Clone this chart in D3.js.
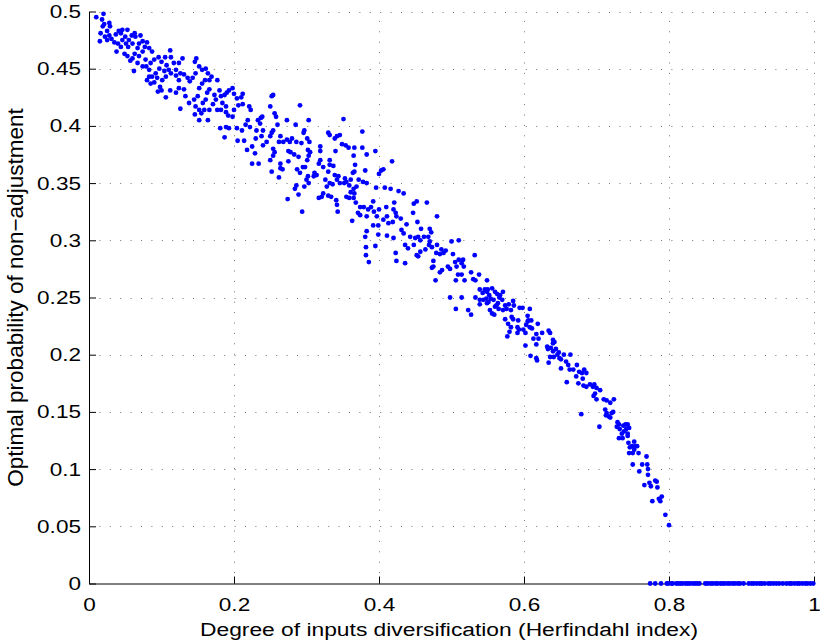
<!DOCTYPE html>
<html>
<head>
<meta charset="utf-8">
<script src="https://cdn.jsdelivr.net/npm/d3@7"></script>
<style>
  body { margin: 0; background: #fff; }
  svg { display: block; }
  text { font-family: "Liberation Sans", Arial, Helvetica, sans-serif; fill: #000; }
</style>
</head>
<body>
<div id="chart"></div>
<script>
// point cloud, [herfindahl, prob]
var upperCloud = [
  [.010,.495],[.020,.498],[.018,.493],[.021,.489],[.028,.490],[.029,.487],[.019,.487],[.016,.481],[.025,.483],[.015,.474],
  [.022,.478],[.028,.479],[.031,.476],[.025,.475],[.035,.473],[.037,.480],[.041,.483],[.044,.481],[.046,.484],[.053,.484],
  [.050,.478],[.046,.475],[.040,.472],[.038,.465],[.044,.469],[.051,.472],[.055,.475],[.059,.479],[.063,.481],[.064,.478],
  [.071,.479],[.060,.472],[.054,.469],[.049,.463],[.053,.461],[.057,.457],[.060,.459],[.063,.463],[.067,.468],[.069,.472],
  [.074,.474],[.080,.473],[.077,.469],[.083,.468],[.087,.465],[.074,.465],[.069,.461],[.067,.455],[.062,.448],[.074,.452],
  [.078,.458],[.079,.452],[.083,.449],[.085,.455],[.090,.458],[.096,.460],[.100,.456],[.105,.460],[.112,.466],[.113,.460],
  [.117,.455],[.124,.455],[.129,.459],[.107,.453],[.104,.448],[.110,.449],[.097,.450],[.092,.446],[.087,.443],[.094,.442],
  [.101,.440],[.106,.443],[.113,.446],[.120,.449],[.120,.444],[.124,.440],[.126,.446],[.131,.445],[.136,.442],[.139,.439],
  [.143,.442],[.147,.446],[.148,.459],[.146,.456],[.152,.452],[.156,.449],[.161,.450],[.164,.446],[.166,.440],[.169,.443],
  [.160,.440],[.156,.437],[.152,.433],[.150,.426],[.145,.423],[.147,.417],[.152,.414],[.157,.420],[.161,.423],[.163,.429],
  [.166,.432],[.173,.427],[.175,.423],[.177,.440],[.180,.431],[.182,.426],[.184,.420],[.189,.417],[.187,.427],[.190,.429],
  [.193,.431],[.198,.433],[.200,.428],[.204,.424],[.210,.425],[.212,.428],[.212,.419],[.206,.418],[.200,.414],[.198,.408],
  [.192,.409],[.189,.412],[.182,.414],[.177,.414],[.171,.419],[.166,.414],[.159,.414],[.155,.411],[.146,.410],[.138,.420],
  [.133,.426],[.131,.432],[.124,.433],[.120,.429],[.112,.431],[.106,.425],[.100,.431],[.095,.430],[.098,.434],[.090,.438],
  [.085,.437],[.080,.440],[.083,.443],[.126,.415],[.152,.405],[.164,.405],[.221,.417],[.223,.414],[.219,.405],[.216,.401],
  [.222,.399],[.211,.396],[.204,.398],[.193,.398],[.189,.399],[.181,.398],[.187,.390],[.205,.387],[.214,.387],[.225,.382],
  [.230,.389],[.231,.396],[.233,.405],[.225,.367],[.234,.367],[.218,.379],[.229,.376]
];

var middleCloud = [
  [.250,.417],[.252,.426],[.254,.427],[.256,.411],[.258,.408],[.260,.401],[.254,.396],[.252,.394],[.250,.391],[.245,.386],
  [.240,.383],[.238,.391],[.240,.396],[.236,.402],[.237,.407],[.239,.408],[.273,.405],[.285,.401],[.291,.418],[.303,.405],
  [.297,.396],[.296,.394],[.293,.385],[.286,.386],[.280,.389],[.277,.386],[.273,.388],[.268,.386],[.264,.391],[.262,.386],
  [.254,.380],[.256,.377],[.254,.374],[.250,.370],[.252,.360],[.262,.355],[.264,.363],[.267,.362],[.264,.367],[.275,.369],
  [.278,.377],[.275,.378],[.283,.375],[.289,.373],[.287,.362],[.291,.359],[.295,.364],[.298,.364],[.301,.370],[.303,.374],
  [.305,.377],[.302,.379],[.301,.389],[.304,.386],[.319,.382],[.319,.378],[.330,.394],[.332,.392],[.339,.389],[.342,.391],
  [.346,.392],[.351,.406],[.340,.378],[.332,.370],[.332,.366],[.319,.370],[.317,.367],[.323,.364],[.330,.360],[.337,.365],
  [.339,.357],[.344,.356],[.342,.353],[.346,.350],[.336,.349],[.332,.350],[.328,.347],[.326,.353],[.314,.357],[.311,.359],
  [.310,.356],[.302,.356],[.300,.353],[.303,.350],[.297,.347],[.284,.345],[.286,.348],[.289,.340],[.274,.336],[.294,.325],
  [.317,.337],[.321,.338],[.323,.341],[.330,.339],[.334,.338],[.341,.335],[.342,.331],[.343,.325],[.352,.350],[.353,.354],
  [.355,.351],[.359,.348],[.361,.353],[.364,.359],[.366,.360],[.367,.366],[.365,.374],[.358,.381],[.354,.383],[.349,.384],
  [.366,.381],[.377,.395],[.377,.381],[.383,.375],[.395,.378],[.381,.361],[.383,.350],[.378,.351],[.372,.353],[.369,.347],
  [.365,.345],[.361,.342],[.355,.338],[.359,.337],[.365,.337],[.366,.341],[.368,.333],[.374,.329],[.371,.324],[.374,.322],
  [.379,.329],[.383,.321],[.385,.327],[.389,.329],[.393,.325],[.392,.334],[.396,.346],[.397,.321],[.399,.313],[.400,.327],
  [.400,.358],[.403,.361],[.406,.362],[.408,.346],[.410,.329],[.411,.321],[.413,.315],[.418,.369],[.416,.345],[.420,.327],
  [.423,.324],[.424,.321],[.421,.333],[.427,.343],[.383,.308],[.381,.303],[.399,.305],[.411,.304],[.420,.302],[.392,.313],
  [.406,.318],[.419,.316],[.363,.317]
];

var lowerCloud = [
  [.434,.341],[.448,.332],[.452,.334],[.466,.333],[.447,.324],[.453,.316],[.458,.310],[.470,.310],[.472,.307],[.480,.321],
  [.430,.319],[.438,.314],[.443,.303],[.431,.309],[.434,.306],[.436,.296],[.440,.293],[.450,.302],[.454,.303],[.457,.300],
  [.462,.303],[.468,.303],[.470,.299],[.473,.294],[.469,.296],[.464,.292],[.457,.290],[.454,.286],[.452,.287],[.448,.296],
  [.480,.296],[.486,.292],[.489,.289],[.492,.291],[.484,.288],[.479,.289],[.500,.299],[.510,.300],[.502,.288],[.505,.281],
  [.507,.277],[.510,.283],[.514,.280],[.516,.283],[.517,.277],[.509,.270],[.514,.270],[.498,.275],[.495,.277],[.487,.274],
  [.484,.272],[.475,.277],[.473,.276],[.475,.282],[.532,.287],[.527,.272],[.530,.266],[.538,.270],[.549,.265],[.423,.289],
  [.424,.282],[.436,.280],[.382,.294],[.382,.287],[.386,.281],[.395,.295],[.478,.265],[.518,.265],[.506,.265],[.533,.265],
  [.571,.255],[.567,.252],[.570,.248],[.574,.243],[.576,.240],[.571,.239],[.579,.244],[.585,.247],[.586,.243],[.582,.239],
  [.594,.241],[.598,.241],[.608,.240],[.592,.230],[.583,.233],[.585,.231],[.574,.231],[.578,.227],[.582,.224],[.580,.220],
  [.577,.216],[.591,.224],[.593,.222],[.591,.219],[.605,.234],[.605,.229],[.603,.226],[.606,.230],[.610,.230],[.619,.227],
  [.608,.224],[.611,.223],[.613,.214],[.617,.218],[.617,.209],[.620,.214],[.625,.219],[.602,.208],[.634,.221],[.636,.219],
  [.640,.213],[.640,.210],[.642,.211],[.632,.207],[.633,.205],[.637,.206],[.640,.203],[.644,.205],[.648,.202],[.649,.197],
  [.651,.196],[.655,.200],[.651,.188],[.658,.194],[.661,.191],[.664,.200],[.663,.187],[.668,.187],[.673,.191],[.672,.181],
  [.676,.185],[.680,.184],[.683,.187],[.686,.184],[.681,.179],[.675,.175],[.682,.173],[.686,.172],[.691,.174],[.695,.172],
  [.697,.174],[.700,.171],[.659,.176],[.609,.199],[.617,.197],[.618,.195],[.636,.198],[.634,.193],[.646,.200],[.641,.198],
  [.602,.219],[.599,.222],[.498,.250],[.514,.250],[.506,.240],[.523,.239],[.527,.235],[.533,.250],[.539,.248],[.539,.244],
  [.544,.248],[.548,.249],[.549,.245],[.551,.246],[.553,.239],[.556,.236],[.559,.235],[.560,.242],[.562,.243],[.564,.245],
  [.558,.248],[.554,.249],[.552,.252],[.549,.255],[.543,.254],[.539,.257],[.546,.257],[.550,.257],[.556,.258],[.560,.255],
  [.563,.253],[.566,.250],[.565,.240]
];

var tailPoints = [
  [.696,.164],[.698,.166],[.705,.169],[.710,.161],[.700,.161],
  [.719,.158],[.714,.160],[.724,.161],[.712,.152],[.714,.149],[.713,.147],[.717,.146],[.719,.145],[.723,.150],[.721,.149],
  [.679,.148],[.704,.137],[.729,.141],[.731,.139],[.728,.137],[.732,.135],[.737,.138],[.740,.139],[.743,.139],[.745,.136],
  [.741,.135],[.738,.133],[.735,.131],[.743,.131],[.743,.129],[.731,.127],[.736,.127],[.744,.123],[.746,.119],[.749,.120],
  [.752,.124],[.754,.120],[.756,.120],[.752,.117],[.750,.114],[.758,.114],[.745,.114],[.750,.104],[.759,.098],[.763,.104],
  [.770,.104],[.769,.111],[.771,.100],[.771,.095],[.766,.086],[.773,.088],[.775,.085],[.781,.090],[.783,.089],[.784,.084],
  [.777,.072],[.786,.074],[.788,.072],[.790,.076],[.795,.060],[.800,.051]
];

// runs where the optimum is exactly zero
var zeroX = [
  .774,.781,.789,
  .797,.799,.803,.805,.810,.813,.816,.819,.823,.826,.829,.833,.836,.839,.842,
  .850,.853,.857,.860,.864,.867,.871,.874,.877,.881,.884,.888,.891,.895,.898,.903,
  .910,.914,.917,.921,.925,.928,.932,.937,
  .940,.944,.948,.952,.957,
  .962,.966,.969,.973,.977,.980,.984,.988,.991,.995,.999
];

var xTicks = [0, 0.2, 0.4, 0.6, 0.8, 1];
var yTicks = [0, 0.05, 0.1, 0.15, 0.2, 0.25, 0.3, 0.35, 0.4, 0.45, 0.5];

var xTitle = "Degree of inputs diversification (Herfindahl index)";
var yTitle = "Optimal probability of non\u2212adjustment";

var width = 820, height = 643;
var plotLeft = 89, plotRight = 814, plotTop = 11.5, plotBottom = 583.5;
var widen = 1.22; // the figure's lettering is wider than Liberation Sans

var svg = d3.select("#chart").append("svg")
    .attr("width", width)
    .attr("height", height);

var x = d3.scaleLinear().domain([0, 1]).range([plotLeft, plotRight]);
var y = d3.scaleLinear().domain([0, 0.5]).range([plotBottom, plotTop]);

// dotted grid
var grid = svg.append("g").attr("class", "grid");
grid.selectAll("line.vg")
    .data(xTicks.slice(1))
    .enter().append("line")
    .attr("x1", function (d) { return Math.round(x(d)) + 0.5; })
    .attr("x2", function (d) { return Math.round(x(d)) + 0.5; })
    .attr("y1", plotBottom)
    .attr("y2", plotTop);
grid.selectAll("line.hg")
    .data(yTicks.slice(1))
    .enter().append("line")
    .attr("x1", plotLeft)
    .attr("x2", plotRight)
    .attr("y1", function (d) { return Math.round(y(d)) + 0.5; })
    .attr("y2", function (d) { return Math.round(y(d)) + 0.5; });
grid.selectAll("line")
    .attr("stroke", "#000")
    .attr("stroke-opacity", 0.55)
    .attr("stroke-width", 1)
    .attr("stroke-dasharray", "1,9.4");

// axes, ticks pointing inward
var xAxis = d3.axisBottom(x)
    .tickValues(xTicks)
    .tickFormat(d3.format("~g"))
    .tickSizeInner(-7)
    .tickSizeOuter(0)
    .tickPadding(14);
var yAxis = d3.axisLeft(y)
    .tickValues(yTicks)
    .tickFormat(d3.format("~g"))
    .tickSizeInner(-7)
    .tickSizeOuter(0)
    .tickPadding(8);

var gx = svg.append("g")
    .attr("transform", "translate(0," + plotBottom + ")")
    .call(xAxis);
var gy = svg.append("g")
    .attr("transform", "translate(" + plotLeft + ",0)")
    .call(yAxis);

[gx, gy].forEach(function (g) {
    g.selectAll("text")
        .attr("font-family", "Liberation Sans, Arial, Helvetica, sans-serif")
        .attr("font-size", 18.5)
        .attr("fill", "#000")
        .each(function () {
            var len = this.getComputedTextLength();
            d3.select(this)
                .attr("textLength", len * widen)
                .attr("lengthAdjust", "spacingAndGlyphs");
        });
    g.selectAll("line").attr("stroke", "#000");
    g.select(".domain").attr("stroke", "#000").attr("stroke-width", 1);
});

// scatter
var points = upperCloud.concat(middleCloud, lowerCloud, tailPoints)
    .concat(zeroX.map(function (v) { return [v, 0]; }));

svg.append("g")
    .attr("class", "dots")
    .selectAll("circle")
    .data(points)
    .enter().append("circle")
    .attr("cx", function (d) { return x(d[0]); })
    .attr("cy", function (d) { return y(d[1]); })
    .attr("r", 2.4)
    .attr("fill", "#0000ff");

// titles
svg.append("text")
    .attr("x", 449)
    .attr("y", 635.5)
    .attr("text-anchor", "middle")
    .attr("font-size", 18)
    .attr("textLength", 498)
    .attr("lengthAdjust", "spacingAndGlyphs")
    .text(xTitle);

svg.append("text")
    .attr("transform", "translate(23," + ((plotTop + plotBottom) / 2) + ") rotate(-90)")
    .attr("text-anchor", "middle")
    .attr("font-size", 22.5)
    .text(yTitle);
</script>
</body>
</html>
